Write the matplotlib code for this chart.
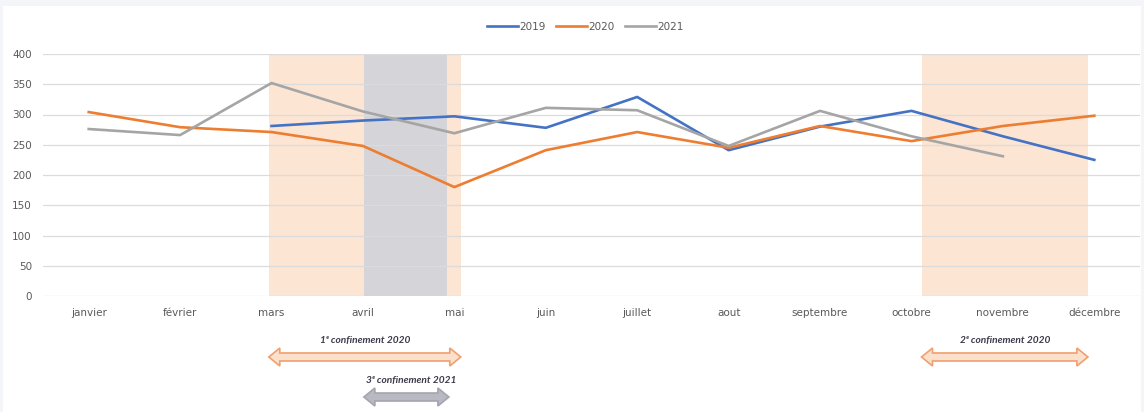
import matplotlib
matplotlib.use("Agg")
import matplotlib.pyplot as plt
from matplotlib.patches import Polygon, Rectangle
import numpy as np

months = ["janvier", "février", "mars", "avril", "mai", "juin", "juillet",
          "aout", "septembre", "octobre", "novembre", "décembre"]
y2019 = [None, None, 281, 290, 297, 278, 329, 241, 280, 306, 264, 225]
y2020 = [304, 279, 271, 248, 180, 241, 271, 245, 281, 256, 281, 298]
y2021 = [276, 266, 352, 305, 269, 311, 307, 248, 306, 264, 231, None]
yticks = [0, 50, 100, 150, 200, 250, 300, 350, 400]

# lockdown periods (category positions) and labels
spans_orange = [(1.97, 4.07), (9.11, 10.93)]
span_gray = (3.01, 3.92)
lock_labels = ["1ᵉ confinement 2020", "2ᵉ confinement 2020", "3ᵉ confinement 2021"]

W, H = 1144, 412
fig = plt.figure(figsize=(W / 100, H / 100), dpi=100, facecolor="#f3f5f8")
fig.add_artist(Rectangle((3 / W, 0), (W - 6) / W, (H - 6) / H, transform=fig.transFigure,
                         facecolor="white", edgecolor="none", zorder=0))

ax = fig.add_axes([43 / W, (H - 296) / H, 1097 / W, 242 / H])
ax.set_facecolor("none")
x = np.arange(len(months))

for a, b in spans_orange:
    ax.axvspan(a, b, color="#fce5d3", zorder=0, lw=0)
ax.axvspan(span_gray[0], span_gray[1], color="#d4d4d9", zorder=0.5, lw=0)

def arr(v):
    return np.array([np.nan if t is None else t for t in v], dtype=float)

ax.plot(x, arr(y2019), color="#4472C4", lw=1.9, label="2019", zorder=3)
ax.plot(x, arr(y2020), color="#ED7D31", lw=1.9, label="2020", zorder=3)
ax.plot(x, arr(y2021), color="#A5A5A5", lw=1.9, label="2021", zorder=3)

ax.set_xlim(-0.5, 11.5)
ax.set_ylim(0, 400)
ax.set_yticks(yticks)
ax.set_xticks(x)
ax.set_xticklabels(months)
ax.grid(axis="y", color="#dcdcdc", lw=0.9, zorder=1)
ax.set_axisbelow(True)
for s in ax.spines.values():
    s.set_visible(False)
ax.tick_params(length=0, labelsize=7.5, labelcolor="#595959")
ax.tick_params(axis="x", pad=9)
ax.tick_params(axis="y", pad=8)

leg = fig.legend(loc="center", bbox_to_anchor=(585 / W, 1 - 27 / H), ncol=3,
                 frameon=False, fontsize=7.5, handlelength=3.0, columnspacing=1.0,
                 handletextpad=0.1, labelcolor="#595959")

fig.canvas.draw()

def darrow(x0, x1, ypix, face, edge):
    p0 = ax.transData.transform((x0, 0))[0]
    p1 = ax.transData.transform((x1, 0))[0]
    yc = H - ypix
    hs, hh, hl = 4, 9, 11
    pts = [(p0, yc), (p0 + hl, yc + hh), (p0 + hl, yc + hs), (p1 - hl, yc + hs),
           (p1 - hl, yc + hh), (p1, yc), (p1 - hl, yc - hh), (p1 - hl, yc - hs),
           (p0 + hl, yc - hs), (p0 + hl, yc - hh)]
    fig.add_artist(Polygon(pts, closed=True, transform=None, facecolor=face,
                           edgecolor=edge, lw=1.2, zorder=5))
    return (p0 + p1) / 2

tkw = dict(fontsize=7.3, fontweight="bold", fontstyle="italic", color="#3a3a4a",
           ha="center", va="center", family=["Lato", "DejaVu Sans"])
c = darrow(spans_orange[0][0], spans_orange[0][1], 357, "#fbe1cc", "#f0a070")
fig.text(c / W, 1 - 340 / H, lock_labels[0], **tkw)
c = darrow(spans_orange[1][0], spans_orange[1][1], 357, "#fbe1cc", "#f0a070")
fig.text(c / W, 1 - 340 / H, lock_labels[1], **tkw)
c = darrow(span_gray[0], span_gray[1] + 0.02, 397, "#b9b9c3", "#a5a5b0")
fig.text((c + 5) / W, 1 - 380 / H, lock_labels[2], **tkw)

fig.savefig("out.png", dpi=100, facecolor=fig.get_facecolor())
